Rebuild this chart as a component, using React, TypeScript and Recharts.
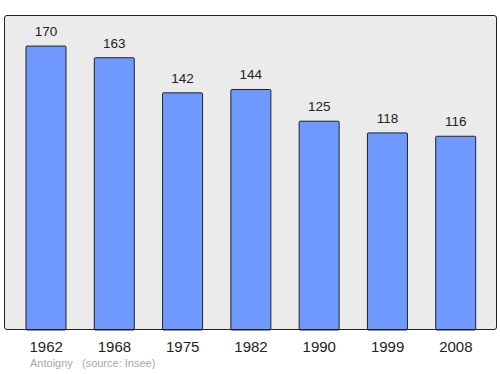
import { BarChart, Bar, XAxis, YAxis, CartesianGrid, LabelList } from 'recharts';

const years = ['1962', '1968', '1975', '1982', '1990', '1999', '2008'];
const population = [170, 163, 142, 144, 125, 118, 116];

const data = years.map((year, i) => ({ year, population: population[i] }));

const FONT = '"Liberation Sans", Arial, sans-serif';

export default function App() {
  return (
    <div style={{ position: 'absolute', top: 0, left: 0, width: 500, height: 374, fontFamily: FONT }}>
      <BarChart
        width={500}
        height={374}
        data={data}
        margin={{ top: 16, right: 3, left: 5, bottom: 14 }}
      >
        <CartesianGrid horizontal={false} vertical={false} fill="#ebebeb" />
        <XAxis
          dataKey="year"
          height={30}
          padding={{ left: 7, right: 7 }}
          axisLine={false}
          tickLine={false}
          tickMargin={5}
          tick={{ fill: '#222', fontSize: 15, fontFamily: FONT }}
        />
        <YAxis width={0} domain={[0, 188]} tick={false} tickLine={false} axisLine={false} />
        <Bar
          dataKey="population"
          fill="#7099ff"
          stroke="#222"
          strokeWidth={1}
          barSize={40}
          radius={1}
          isAnimationActive={false}
        >
          <LabelList
            dataKey="population"
            position="top"
            offset={10}
            style={{ fill: '#222', fontSize: 13.5, fontFamily: FONT }}
          />
        </Bar>
      </BarChart>
      {/* frame around the plot area */}
      <div
        style={{
          position: 'absolute',
          left: 4,
          top: 15,
          width: 491,
          height: 313,
          border: '1.5px solid #222',
          borderRadius: 3,
          pointerEvents: 'none',
        }}
      />
      <div
        style={{
          position: 'absolute',
          left: 30,
          top: 357,
          fontSize: 11,
          color: '#a8a8a8',
          whiteSpace: 'pre',
        }}
      >
        {'Antoigny   (source: Insee)'}
      </div>
    </div>
  );
}
